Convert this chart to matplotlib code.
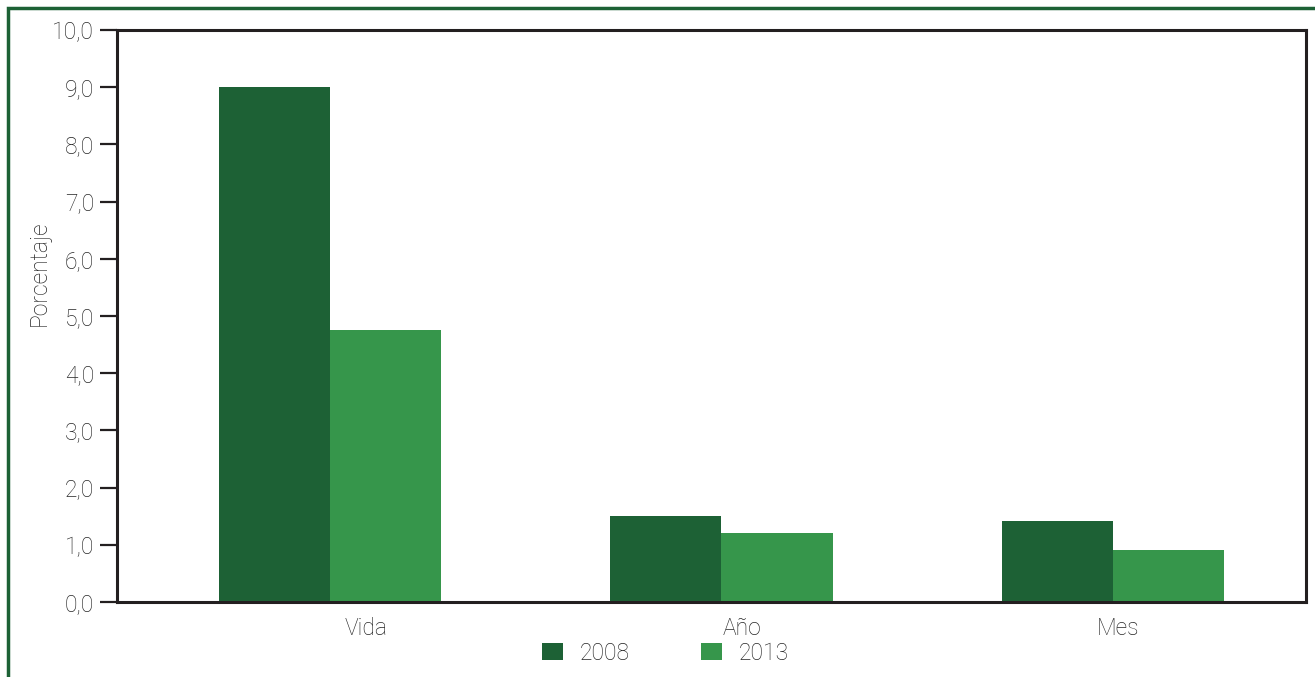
import matplotlib
matplotlib.use("Agg")
import matplotlib.pyplot as plt
from matplotlib.patches import Rectangle
import numpy as np

categories = ["Vida", "Año", "Mes"]
years = ["2008", "2013"]
values_2008 = [9.0, 1.5, 1.42]
values_2013 = [4.76, 1.21, 0.91]
yticks = [0, 1, 2, 3, 4, 5, 6, 7, 8, 9, 10]
ytick_labels = ["0,0", "1,0", "2,0", "3,0", "4,0", "5,0", "6,0", "7,0", "8,0", "9,0", "10,0"]

c_dark = "#1d6135"
c_light = "#36964b"
txt = "#262626"
fs = 16.5

plt.rcParams['font.family'] = ['Roboto', 'DejaVu Sans']

W, H = 1315, 677
fig = plt.figure(figsize=(W/100, H/100), dpi=100)
ax = fig.add_axes([117/W, 1-602/H, (1306-117)/W, (602-30)/H])

x = np.arange(len(categories))
w = 0.284
ax.bar(x - w/2, values_2008, width=w, color=c_dark, label=years[0])
ax.bar(x + w/2, values_2013, width=w, color=c_light, label=years[1])

ax.set_xlim(-0.544, 2.493)
ax.set_ylim(0, 10)
ax.set_yticks(yticks)
ax.set_yticklabels(ytick_labels, fontsize=fs, color=txt, fontweight='light')
# category labels sit slightly right of the bar-group centres in the reference
label_shift = np.array([0.092, 0.052, 0.013])
ax.set_xticks(x + label_shift)
ax.set_xticklabels(categories, fontsize=fs, color=txt, fontweight='light')
ax.tick_params(axis='y', direction='out', length=12.5, width=1.6, color='#231f20', pad=4)
ax.tick_params(axis='x', length=0, pad=11)
for s in ax.spines.values():
    s.set_color('#231f20')
    s.set_linewidth(2.2)

fig.text(39/W, 1-273/H, "Porcentaje", rotation=90, ha='center', va='center',
         fontsize=fs, color=txt, fontweight='light')

leg = fig.legend(loc='center', bbox_to_anchor=(665.5/W, 1-653/H), ncol=2, frameon=False,
                 fontsize=fs, handlelength=0.9, handleheight=0.78, columnspacing=3.1,
                 handletextpad=0.75, borderpad=0, borderaxespad=0)
for t in leg.get_texts():
    t.set_color(txt)
    t.set_fontweight('light')

fig.patches.append(Rectangle((8/W, -0.1), 1.2, 1 - 8/H + 0.1, transform=fig.transFigure,
                             fill=False, edgecolor=c_dark, linewidth=2.5))

fig.savefig("out.png", dpi=100)
